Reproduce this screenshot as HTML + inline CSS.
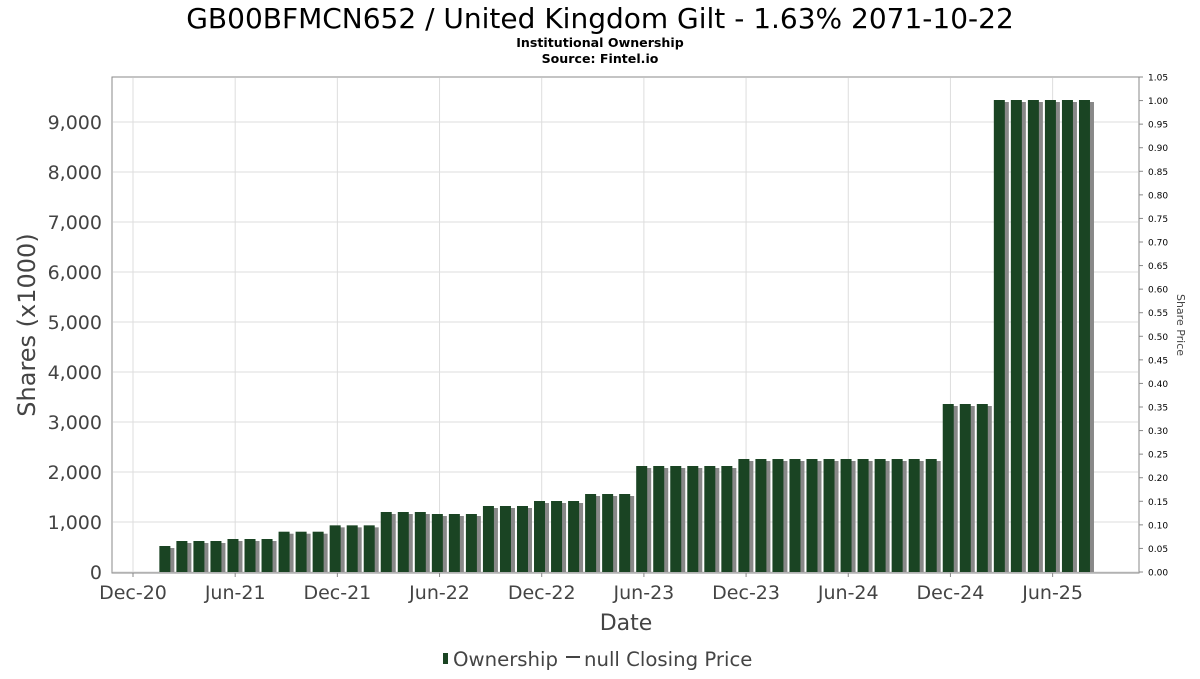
<!DOCTYPE html>
<html><head><meta charset="utf-8"><style>
body{margin:0;background:#fff;font-family:"DejaVu Sans","Liberation Sans",sans-serif;}
svg text{font-family:"DejaVu Sans","Liberation Sans",sans-serif;}
</style></head><body>
<svg id="c" width="1200" height="675" viewBox="0 0 1200 675" xmlns="http://www.w3.org/2000/svg">
<text x="600" y="28" text-anchor="middle" font-size="28" fill="#000">GB00BFMCN652 / United Kingdom Gilt - 1.63% 2071-10-22</text>
<text x="600" y="47" text-anchor="middle" font-size="12.6" font-weight="bold" fill="#000">Institutional Ownership</text>
<text x="600" y="63" text-anchor="middle" font-size="12.6" font-weight="bold" fill="#000">Source: Fintel.io</text>
<rect x="112" y="77" width="1027" height="496" fill="#fff" stroke="#888"/>
<g id="grid"></g><g id="bars"></g><g id="axes"></g>
<text transform="translate(35,325) rotate(-90)" text-anchor="middle" font-size="24" fill="#444">Shares (x1000)</text>
<text transform="translate(1177,325) rotate(90)" text-anchor="middle" font-size="11" fill="#444">Share Price</text>
<text x="626" y="630" text-anchor="middle" font-size="22" fill="#444">Date</text>
<g>
<rect x="443" y="653" width="5" height="11" fill="#1a4423"/>
<text x="453" y="666" font-size="19.7" fill="#444">Ownership</text>
<line x1="566" y1="657" x2="580" y2="657" stroke="#444" stroke-width="2"/>
<text x="584" y="666" font-size="19.7" fill="#444">null Closing Price</text>
</g>
</svg>
<script>
const xTickLabels=["Dec-20","Jun-21","Dec-21","Jun-22","Dec-22","Jun-23","Dec-23","Jun-24","Dec-24","Jun-25"];
const yTicks=[0,1000,2000,3000,4000,5000,6000,7000,8000,9000];
const rightTicks=["0.00","0.05","0.10","0.15","0.20","0.25","0.30","0.35","0.40","0.45","0.50","0.55","0.60","0.65","0.70","0.75","0.80","0.85","0.90","0.95","1.00","1.05"];
const barMonths=[];for(let i=0;i<55;i++)barMonths.push(1.9+i);
const ownership=[520,620,620,620,660,660,660,806,806,806,933,933,933,1200,1200,1200,1160,1160,1160,1320,1320,1320,1420,1420,1420,1560,1560,1560,
2120,2120,2120,2120,2120,2120,2260,2260,2260,2260,2260,2260,2260,2260,2260,2260,2260,2260,3360,3360,3360,9440,9440,9440,9440,9440,9440];
const NS="http://www.w3.org/2000/svg";
function X(m){return 133+m*17.03;}
function Y(v){return 572-v*0.05;}
function RY(p){return 572-p*(495/1.05);}
function mk(t,a,p){const e=document.createElementNS(NS,t);for(const k in a)e.setAttribute(k,a[k]);if(p)p.appendChild(e);return e;}
const grid=document.getElementById('grid'),bars=document.getElementById('bars'),axes=document.getElementById('axes');
xTickLabels.forEach((l,i)=>{const x=X(i*6);
const g=mk('line',{x1:x,y1:78,x2:x,y2:572,stroke:'#ddd'},grid);


mk('line',{x1:x,y1:573,x2:x,y2:577,stroke:'#888'},axes);
const t=mk('text',{x:x,y:599,'text-anchor':'middle','font-size':19,fill:'#444'},axes);t.textContent=l;

});
yTicks.forEach(v=>{const y=Y(v);
const g=mk('line',{x1:113,y1:y,x2:1138,y2:y,stroke:'#ddd'},grid);


const t=mk('text',{x:102,y:y+7,'text-anchor':'end','font-size':19,fill:'#444'},axes);t.textContent=v.toLocaleString('en-US');

});
rightTicks.forEach(p=>{const y=RY(parseFloat(p));
mk('line',{x1:1139,y1:y,x2:1143,y2:y,stroke:'#888'},axes);
const t=mk('text',{x:1148,y:y+3.5,'font-size':9,fill:'#000'},axes);t.textContent=p;

});
ownership.forEach((v,i)=>{const cx=X(barMonths[i]);const y=Y(v);
mk('rect',{x:cx-5+3,y:y+2,width:11,height:572-y-2,fill:'#888'},bars);
const r=mk('rect',{x:cx-6,y:y,width:11,height:572-y,fill:'#1a4423'},bars);

});
</script>
</body></html>
